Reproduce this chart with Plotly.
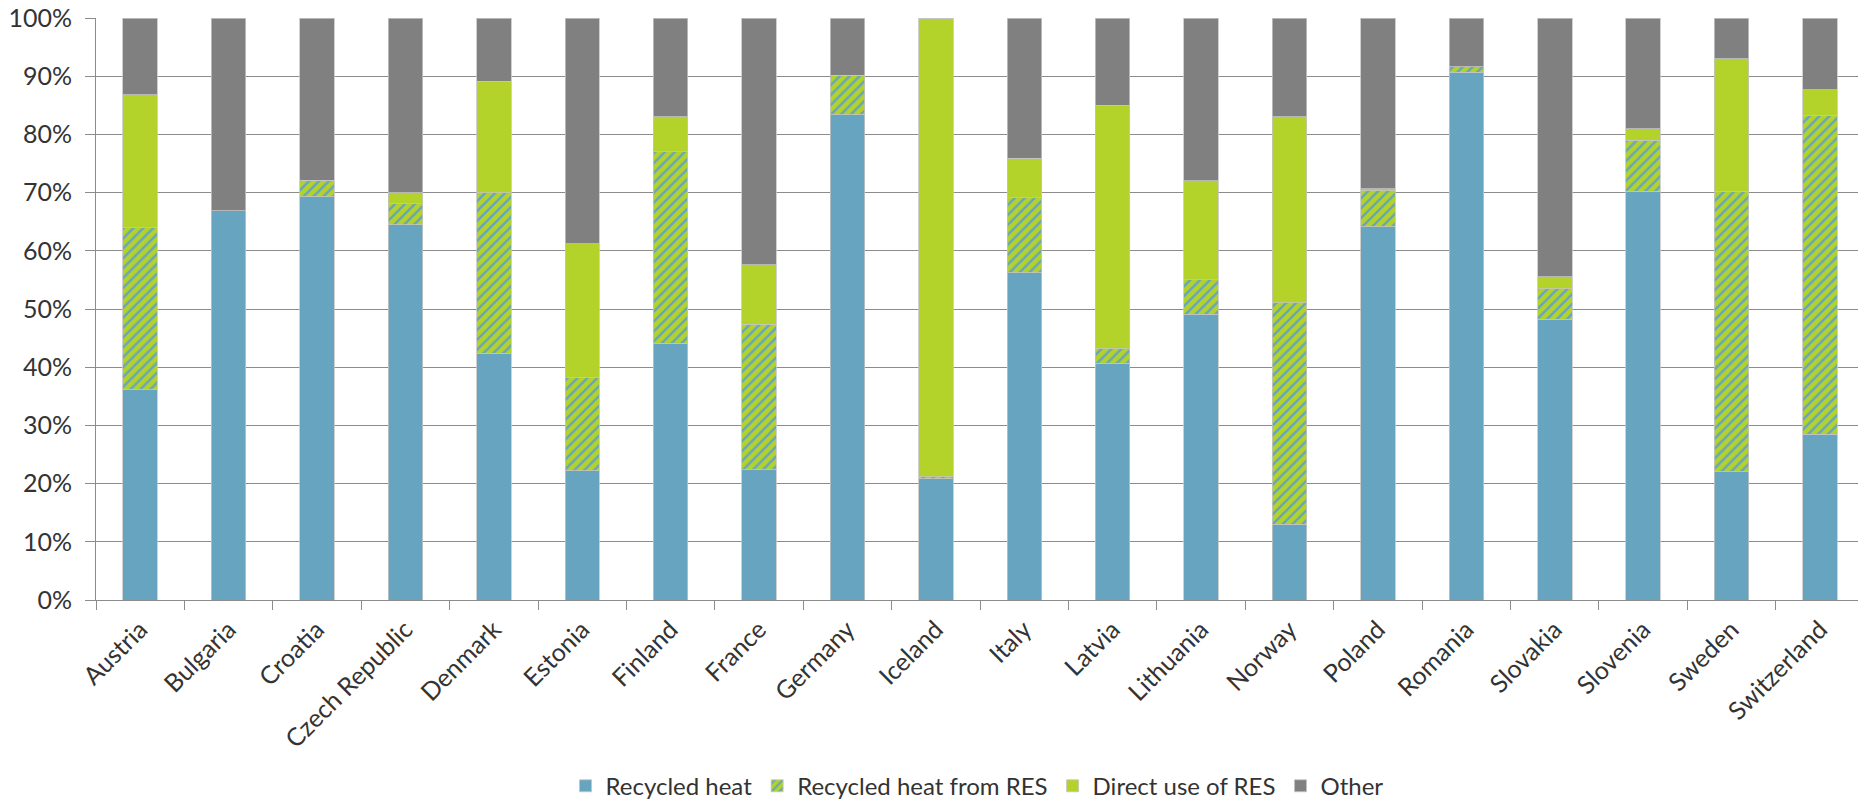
import plotly.graph_objects as go

countries = ["Austria", "Bulgaria", "Croatia", "Czech Republic", "Denmark", "Estonia",
             "Finland", "France", "Germany", "Iceland", "Italy", "Latvia", "Lithuania",
             "Norway", "Poland", "Romania", "Slovakia", "Slovenia", "Sweden", "Switzerland"]

recycled_heat = [36.1, 66.9, 69.3, 64.5, 42.4, 22.2, 44.1, 22.4, 83.4, 20.8,
                 56.2, 40.7, 49.1, 13.0, 64.1, 90.7, 48.2, 70.2, 22.0, 28.5]
recycled_heat_res = [27.9, 0.0, 2.8, 3.6, 27.6, 16.1, 32.9, 25.0, 6.8, 0.4,
                     12.9, 2.5, 5.9, 38.1, 6.2, 0.9, 5.3, 8.8, 48.2, 54.8]
direct_use_res = [22.8, 0.0, 0.0, 1.9, 19.1, 22.9, 6.0, 10.2, 0.0, 78.8,
                  6.8, 41.8, 17.0, 31.9, 0.4, 0.0, 2.0, 2.0, 22.8, 4.4]
other = [13.2, 33.1, 27.9, 30.0, 10.9, 38.8, 17.0, 42.4, 9.8, 0.0,
         24.1, 15.0, 28.0, 17.0, 29.3, 8.4, 44.5, 19.0, 7.0, 12.3]

BLUE = "#67A4BF"
GREEN = "#B3D32B"
GREY = "#808080"
OUTLINE = dict(color="#C4C4C4", width=0.8)
FONT = "Lato, 'Open Sans', sans-serif"

fig = go.Figure()
fig.add_trace(go.Bar(x=countries, y=recycled_heat, name="Recycled heat",
                     marker=dict(color=BLUE, line=OUTLINE)))
fig.add_trace(go.Bar(x=countries, y=recycled_heat_res, name="Recycled heat from RES",
                     marker=dict(color=BLUE, line=OUTLINE,
                                 pattern=dict(shape="/", fgcolor=BLUE, bgcolor=GREEN,
                                              size=7, solidity=0.35, fillmode="replace"))))
fig.add_trace(go.Bar(x=countries, y=direct_use_res, name="Direct use of RES",
                     marker=dict(color=GREEN, line=OUTLINE)))
fig.add_trace(go.Bar(x=countries, y=other, name="Other",
                     marker=dict(color=GREY, line=OUTLINE)))

fig.update_layout(
    width=1858, height=808,
    barmode="stack",
    bargap=0.61,
    plot_bgcolor="white", paper_bgcolor="white",
    margin=dict(l=96, r=0, t=18, b=208),
    font=dict(family=FONT, size=25, color="#333333"),
    legend=dict(orientation="h", x=0.5, xanchor="center",
                yref="container", y=0.027, yanchor="middle",
                traceorder="normal", font=dict(size=24, color="#333333")),
    showlegend=True,
)
fig.update_xaxes(
    range=[-0.5, 19.43], automargin=False,
    showline=True, linecolor="#8C8C8C", linewidth=1,
    ticks="outside", tickson="boundaries", ticklen=9, tickcolor="#8C8C8C",
    tickangle=-45, showgrid=False, ticklabelstandoff=4,
)
fig.update_yaxes(
    range=[0, 100], dtick=10, ticksuffix="%", automargin=False,
    showgrid=True, gridcolor="#8C8C8C", gridwidth=1,
    showline=True, linecolor="#8C8C8C", linewidth=1,
    ticks="outside", ticklen=10, tickcolor="#8C8C8C",
    ticklabelstandoff=8, zeroline=False,
)

fig.write_html("out.html")
